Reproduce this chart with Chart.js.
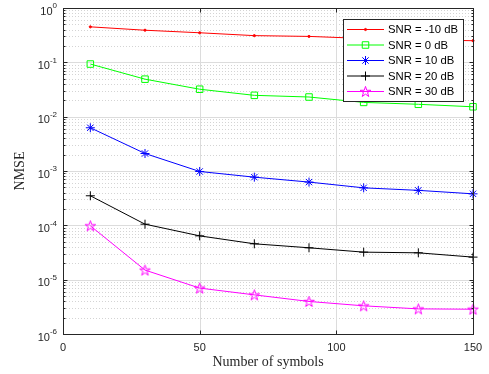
<!DOCTYPE html>
<html>
<head>
<meta charset="utf-8">
<script src="https://cdn.jsdelivr.net/npm/chart.js@4/dist/chart.umd.min.js"></script>
<style>
html,body{margin:0;padding:0;background:#fff;}
#c{display:block;}
</style>
</head>
<body>
<canvas id="c" width="489" height="374"></canvas>
<script>
// ---- data ----
const symbols = [10, 30, 50, 70, 90, 110, 130, 150];
const snrMinus10 = [0.45, 0.39, 0.35, 0.31, 0.30, 0.275, 0.26, 0.25];
const snr0 = [0.093, 0.049, 0.032, 0.0247, 0.023, 0.0183, 0.0169, 0.0152];
const snr10 = [0.00625, 0.0021, 0.00098, 0.00077, 0.000625, 0.00049, 0.00044, 0.00038];
const snr20 = [3.5e-4, 1.05e-4, 6.4e-5, 4.57e-5, 3.86e-5, 3.21e-5, 3.12e-5, 2.6e-5];
const snr30 = [9.8e-5, 1.5e-5, 7.0e-6, 5.25e-6, 3.97e-6, 3.3e-6, 2.9e-6, 2.86e-6];
const seriesLabels = ['SNR = -10 dB', 'SNR = 0 dB', 'SNR = 10 dB', 'SNR = 20 dB', 'SNR = 30 dB'];
const xTickValues = [0, 50, 100, 150];
const yTickExponents = [-6, -5, -4, -3, -2, -1, 0];
const xTitle = 'Number of symbols';
const yTitle = 'NMSE';

// pentagram marker
function makePentagram(color) {
  const s = 13, c = document.createElement('canvas');
  c.width = s; c.height = s;
  const g = c.getContext('2d');
  const R = 5.6, r = R * 0.382, cx = s / 2, cy = s / 2 + 0.5;
  g.beginPath();
  for (let i = 0; i < 10; i++) {
    const a = -Math.PI / 2 + i * Math.PI / 5;
    const rr = i % 2 === 0 ? R : r;
    const px = cx + rr * Math.cos(a), py = cy + rr * Math.sin(a);
    if (i === 0) g.moveTo(px, py); else g.lineTo(px, py);
  }
  g.closePath();
  g.strokeStyle = color; g.lineWidth = 1; g.stroke();
  return c;
}
const starImg = makePentagram('#ff00ff');

const pts = arr => symbols.map((x, i) => ({x: x, y: arr[i]}));
const styles = [
  {color: '#ff0000', pointStyle: 'circle', radius: 1.1, fill: '#ff0000'},
  {color: '#00ff00', pointStyle: 'rect', radius: 4.6, fill: 'rgba(0,0,0,0)'},
  {color: '#0000ff', pointStyle: 'star', radius: 4.5, fill: 'rgba(0,0,0,0)'},
  {color: '#000000', pointStyle: 'cross', radius: 4.5, fill: 'rgba(0,0,0,0)'},
  {color: '#ff00ff', pointStyle: starImg, radius: 6, fill: 'rgba(0,0,0,0)'}
];
const values = [snrMinus10, snr0, snr10, snr20, snr30];
const datasets = values.map((v, i) => ({
  label: seriesLabels[i],
  data: pts(v),
  borderColor: styles[i].color,
  backgroundColor: styles[i].fill,
  borderWidth: 1,
  pointStyle: styles[i].pointStyle,
  pointRadius: styles[i].radius,
  pointBorderWidth: 1,
  pointBorderColor: styles[i].color,
  pointBackgroundColor: styles[i].fill,
  tension: 0,
  clip: false
}));

const axisColor = '#262626';
const matlabPlugin = {
  id: 'matlab',
  beforeDatasetsDraw(chart) {
    const {ctx, chartArea: a, scales: {x, y}} = chart;
    ctx.save();
    // minor y grid (dotted)
    ctx.strokeStyle = 'rgba(38,38,38,0.2)';
    ctx.lineWidth = 1;
    ctx.setLineDash([1, 2]);
    for (let e = -6; e < 0; e++) {
      for (let m = 2; m <= 9; m++) {
        const py = Math.round(y.getPixelForValue(m * Math.pow(10, e))) + 0.5;
        ctx.beginPath(); ctx.moveTo(a.left, py); ctx.lineTo(a.right, py); ctx.stroke();
      }
    }
    ctx.setLineDash([]);
    // major grid
    ctx.strokeStyle = '#dcdcdc';
    yTickExponents.forEach(e => {
      const py = Math.round(y.getPixelForValue(Math.pow(10, e))) + 0.5;
      ctx.beginPath(); ctx.moveTo(a.left, py); ctx.lineTo(a.right, py); ctx.stroke();
    });
    xTickValues.forEach(v => {
      const px = Math.round(x.getPixelForValue(v)) + 0.5;
      ctx.beginPath(); ctx.moveTo(px, a.top); ctx.lineTo(px, a.bottom); ctx.stroke();
    });
    ctx.restore();
  },
  afterDatasetsDraw(chart) {
    const {ctx, chartArea: a, scales: {x, y}} = chart;
    ctx.save();
    const L = Math.round(a.left) + 0.5, R = Math.round(a.right) + 0.5;
    const T = Math.round(a.top) + 0.5, B = Math.round(a.bottom) + 0.5;
    ctx.strokeStyle = axisColor;
    ctx.lineWidth = 1;
    // ticks
    ctx.beginPath();
    yTickExponents.forEach(e => {
      const py = Math.round(y.getPixelForValue(Math.pow(10, e))) + 0.5;
      ctx.moveTo(L, py); ctx.lineTo(L + 4, py);
      ctx.moveTo(R, py); ctx.lineTo(R - 4, py);
    });
    for (let e = -6; e < 0; e++) {
      for (let m = 2; m <= 9; m++) {
        const py = Math.round(y.getPixelForValue(m * Math.pow(10, e))) + 0.5;
        ctx.moveTo(L, py); ctx.lineTo(L + 2, py);
        ctx.moveTo(R, py); ctx.lineTo(R - 2, py);
      }
    }
    xTickValues.forEach(v => {
      const px = Math.round(x.getPixelForValue(v)) + 0.5;
      ctx.moveTo(px, B); ctx.lineTo(px, B - 4);
      ctx.moveTo(px, T); ctx.lineTo(px, T + 4);
    });
    ctx.stroke();
    // box
    ctx.strokeRect(L, T, R - L, B - T);

    // tick labels
    ctx.fillStyle = axisColor;
    ctx.textBaseline = 'middle';
    ctx.font = '11px "Liberation Sans", Arial, sans-serif';
    ctx.textAlign = 'center';
    xTickValues.forEach(v => {
      ctx.fillText(String(v), x.getPixelForValue(v), 348);
    });
    yTickExponents.forEach(e => {
      const py = y.getPixelForValue(Math.pow(10, e));
      const expStr = String(e);
      ctx.font = '8px "Liberation Sans", Arial, sans-serif';
      const ew = ctx.measureText(expStr).width;
      const right = 57;
      ctx.textAlign = 'left';
      ctx.fillText(expStr, right - ew, py - 2);
      ctx.font = '11px "Liberation Sans", Arial, sans-serif';
      ctx.textAlign = 'right';
      ctx.fillText('10', right - ew, py + 3.5);
    });

    // axis titles
    ctx.font = '14px "Liberation Serif", "Times New Roman", serif';
    ctx.textAlign = 'center';
    ctx.fillText(xTitle, (a.left + a.right) / 2, 362);
    ctx.save();
    ctx.translate(20, (a.top + a.bottom) / 2);
    ctx.rotate(-Math.PI / 2);
    ctx.fillText(yTitle, 0, 0);
    ctx.restore();

    // legend
    const lx = 343.5, ly = 19.5, lw = 120, lh = 82;
    ctx.fillStyle = '#ffffff';
    ctx.fillRect(lx, ly, lw, lh);
    ctx.strokeStyle = axisColor;
    ctx.strokeRect(lx, ly, lw, lh);
    const rowY = [29, 44.5, 60, 75.5, 91];
    chart.data.datasets.forEach((ds, i) => {
      const yy = rowY[i];
      ctx.strokeStyle = ds.borderColor;
      ctx.lineWidth = 1;
      ctx.beginPath(); ctx.moveTo(347, yy + 0.5); ctx.lineTo(384, yy + 0.5); ctx.stroke();
      ctx.fillStyle = ds.pointBackgroundColor;
      Chart.helpers.drawPoint(ctx, {
        pointStyle: ds.pointStyle, radius: ds.pointRadius, borderWidth: 1, rotation: 0
      }, 365.5, yy + 0.5);
      ctx.fillStyle = '#000000';
      ctx.font = '11.3px "Liberation Sans", Arial, sans-serif';
      ctx.textAlign = 'left';
      ctx.textBaseline = 'middle';
      ctx.fillText(ds.label, 388, yy + 1);
    });
    ctx.restore();
  }
};

new Chart(document.getElementById('c'), {
  type: 'line',
  data: {datasets: datasets},
  options: {
    responsive: false,
    animation: false,
    devicePixelRatio: 1,
    layout: {padding: {left: 0, right: 16, top: 8, bottom: 0}},
    plugins: {legend: {display: false}, tooltip: {enabled: false}},
    scales: {
      x: {
        type: 'linear', min: 0, max: 150,
        ticks: {display: false}, grid: {display: false}, border: {display: false},
        afterFit: s => { s.height = 40; }
      },
      y: {
        type: 'logarithmic', min: 1e-6, max: 1,
        ticks: {display: false}, grid: {display: false}, border: {display: false},
        afterFit: s => { s.width = 63; }
      }
    }
  },
  plugins: [matlabPlugin]
});
</script>
</body>
</html>
